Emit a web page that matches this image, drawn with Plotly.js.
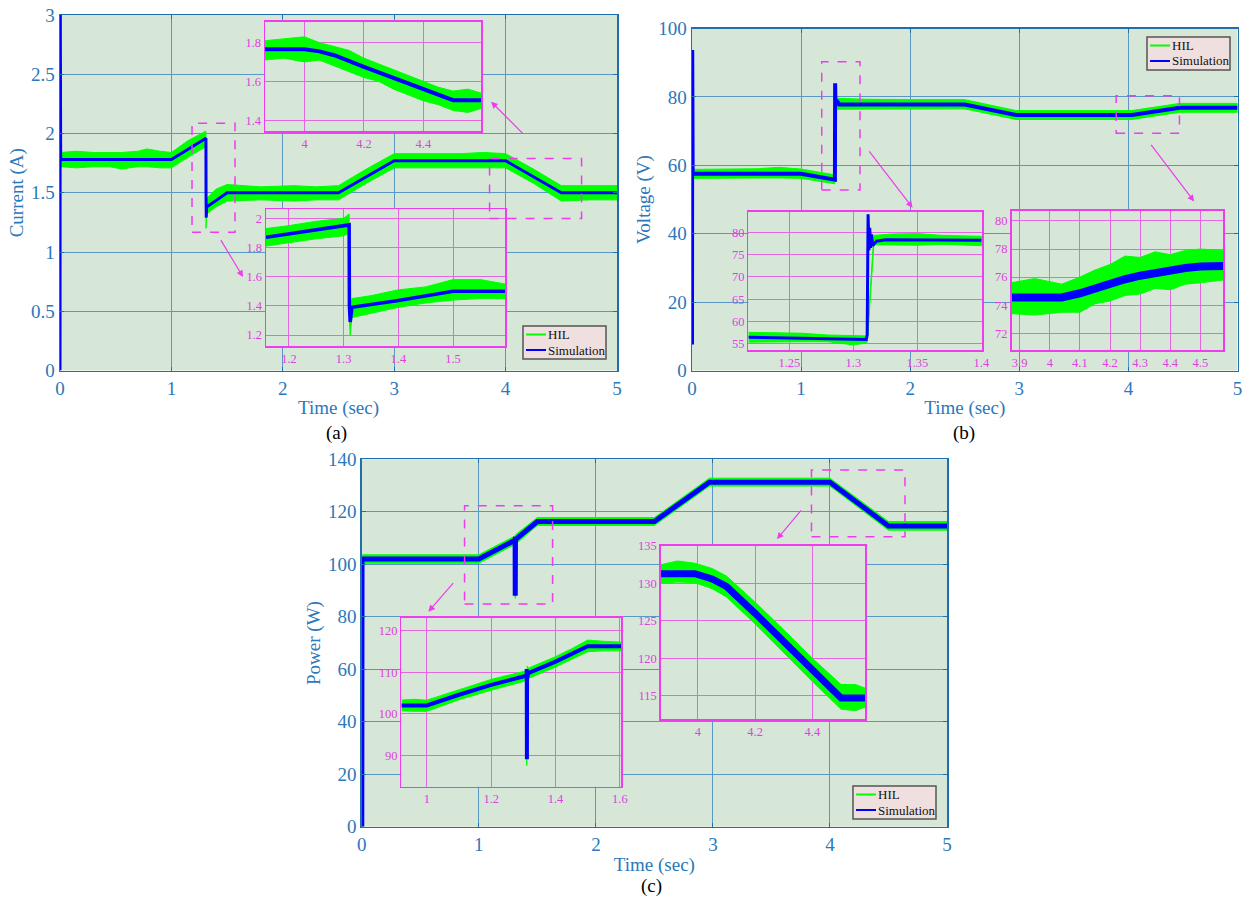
<!DOCTYPE html>
<html>
<head>
<meta charset="utf-8">
<script src="https://cdn.plot.ly/plotly-3.0.1.min.js"></script>
<style>html,body{margin:0;padding:0;background:#fff;}#chart{width:1250px;height:905px;}</style>
</head>
<body>
<div id="chart"></div>
<script>
// ---------------- DATA ----------------
// (a) Current (A)
const simA_t = [0, 0.002, 0.006, 1.0, 1.31, 1.311, 1.313, 1.316, 1.5, 2.5, 3.0, 4.0, 4.5, 5.0];
const simA_v = [0, 3.3, 1.78, 1.78, 1.96, 1.45, 1.29, 1.38, 1.50, 1.50, 1.77, 1.77, 1.50, 1.50];
const hilA_t  = [0.006, 0.15, 0.3, 0.45, 0.55, 0.7, 0.78, 0.9, 1.0, 1.15, 1.31, 1.311, 1.316, 1.4, 1.5, 1.8, 2.1, 2.3, 2.5, 2.75, 3.0, 3.3, 3.6, 3.8, 4.0, 4.25, 4.5, 4.75, 5.0];
const hilA_hi = [1.84, 1.85, 1.84, 1.84, 1.84, 1.85, 1.87, 1.85, 1.84, 1.94, 2.02, 1.45, 1.45, 1.53, 1.57, 1.55, 1.56, 1.55, 1.56, 1.70, 1.83, 1.83, 1.83, 1.84, 1.83, 1.70, 1.56, 1.56, 1.56];
const hilA_lo = [1.72, 1.71, 1.72, 1.72, 1.70, 1.72, 1.72, 1.71, 1.71, 1.80, 1.89, 1.20, 1.32, 1.38, 1.43, 1.44, 1.43, 1.44, 1.44, 1.58, 1.71, 1.71, 1.71, 1.71, 1.71, 1.58, 1.43, 1.44, 1.44];

const simA1_t = [3.867, 4.0, 4.05, 4.1, 4.2, 4.3, 4.4, 4.5, 4.594];
const simA1_v = [1.766, 1.766, 1.755, 1.735, 1.675, 1.617, 1.561, 1.503, 1.503];
const hilA1_t  = [3.867, 3.93, 4.0, 4.05, 4.1, 4.15, 4.2, 4.25, 4.3, 4.35, 4.4, 4.45, 4.5, 4.55, 4.594];
const hilA1_hi = [1.81, 1.82, 1.83, 1.80, 1.78, 1.76, 1.72, 1.69, 1.66, 1.63, 1.60, 1.57, 1.55, 1.56, 1.54];
const hilA1_lo = [1.71, 1.72, 1.70, 1.71, 1.68, 1.65, 1.62, 1.60, 1.56, 1.53, 1.50, 1.48, 1.45, 1.44, 1.46];

const simA2_t = [1.158, 1.31, 1.3105, 1.312, 1.315, 1.4, 1.5, 1.595];
const simA2_v = [1.87, 1.955, 1.40, 1.29, 1.39, 1.437, 1.50, 1.50];
const hilA2_t  = [1.158, 1.2, 1.25, 1.3, 1.31, 1.3105, 1.312, 1.315, 1.35, 1.4, 1.45, 1.5, 1.55, 1.595];
const hilA2_hi = [1.93, 1.95, 1.98, 2.00, 2.03, 1.45, 1.35, 1.45, 1.47, 1.51, 1.53, 1.58, 1.58, 1.55];
const hilA2_lo = [1.81, 1.83, 1.86, 1.88, 1.90, 1.30, 1.20, 1.32, 1.35, 1.39, 1.42, 1.44, 1.45, 1.45];

// (b) Voltage (V)
const simB_t = [0, 0.002, 0.006, 1.0, 1.31, 1.312, 1.315, 1.325, 1.35, 2.5, 2.97, 4.03, 4.47, 5.0];
const simB_v = [7.6, 93.7, 57.5, 57.5, 55.8, 84, 77.5, 79, 77.8, 77.8, 74.7, 74.7, 76.8, 76.8];
const hilB_t  = [0.006, 0.3, 0.6, 0.8, 1.0, 1.31, 1.312, 1.33, 1.6, 2.0, 2.5, 2.97, 3.5, 4.03, 4.47, 5.0];
const hilB_hi = [58.8, 58.8, 59.0, 59.4, 58.9, 57.2, 79.4, 79.6, 79.3, 79.2, 79.2, 76.0, 76.0, 76.0, 78.1, 78.1];
const hilB_lo = [56.2, 56.2, 56.3, 56.3, 56.2, 54.6, 76.4, 76.4, 76.4, 76.5, 76.5, 73.4, 73.4, 73.4, 75.5, 75.5];

const simB1_t = [1.218, 1.31, 1.3108, 1.3115, 1.3122, 1.3128, 1.3135, 1.3142, 1.315, 1.318, 1.325, 1.35, 1.4];
const simB1_v = [56.5, 56.0, 57.0, 84.0, 76.0, 81.0, 76.5, 79.5, 77.0, 78.0, 78.3, 78.3, 78.2];
const hilB1_t  = [1.218, 1.24, 1.26, 1.28, 1.30, 1.31, 1.311, 1.316, 1.33, 1.35, 1.37, 1.4];
const hilB1_hi = [57.6, 57.5, 57.4, 57.0, 56.8, 56.8, 57.5, 79.3, 79.6, 79.7, 79.3, 79.1];
const hilB1_lo = [55.4, 55.4, 55.5, 55.5, 54.8, 55.2, 55.5, 77.2, 77.2, 77.1, 77.3, 77.0];

const simB2_t = [3.873, 3.95, 4.04, 4.1, 4.15, 4.2, 4.25, 4.3, 4.35, 4.4, 4.45, 4.5, 4.576];
const simB2_v = [74.55, 74.55, 74.55, 74.85, 75.2, 75.55, 75.85, 76.1, 76.3, 76.5, 76.65, 76.75, 76.8];
const hilB2_t  = [3.873, 3.95, 4.04, 4.1, 4.15, 4.2, 4.25, 4.3, 4.35, 4.4, 4.45, 4.5, 4.576];
const hilB2_hi = [75.6, 75.9, 75.5, 76.0, 76.5, 76.9, 77.5, 77.4, 77.8, 77.6, 77.9, 78.0, 77.9];
const hilB2_lo = [73.4, 73.3, 73.5, 73.5, 74.1, 74.3, 74.7, 74.8, 75.2, 75.1, 75.5, 75.6, 75.8];

// (c) Power (W)
const simC_t = [0, 0.002, 1.0, 1.31, 1.311, 1.313, 1.315, 1.5, 2.5, 2.97, 4.0, 4.5, 5.0];
const simC_v = [0, 102, 102, 109.2, 88, 110.5, 109.5, 116.3, 116.3, 131.3, 131.3, 114.6, 114.6];
const hilC_t  = [0.004, 0.5, 1.0, 1.31, 1.311, 1.315, 1.5, 2.0, 2.5, 2.97, 3.5, 4.0, 4.5, 5.0];
const hilC_hi = [103.6, 103.6, 103.6, 110.8, 110, 111.3, 117.8, 117.8, 117.8, 132.8, 132.8, 132.8, 116.3, 116.3];
const hilC_lo = [100.4, 100.4, 100.4, 107.6, 87, 107.7, 114.8, 114.8, 114.8, 129.8, 129.8, 129.8, 113.0, 113.0];

const simC1_t = [0.921, 1.0, 1.1, 1.2, 1.31, 1.3105, 1.311, 1.3115, 1.312, 1.315, 1.4, 1.5, 1.604];
const simC1_v = [102, 102, 104.6, 107, 109.2, 110.8, 89, 109, 108.6, 109.8, 112.6, 116.3, 116.3];
const hilC1_t  = [0.921, 0.96, 1.0, 1.1, 1.2, 1.3, 1.31, 1.3105, 1.312, 1.315, 1.4, 1.45, 1.5, 1.55, 1.604];
const hilC1_hi = [103.3, 103.5, 103.3, 105.8, 108.3, 110.2, 110.5, 95, 111.5, 111, 113.8, 115.7, 117.8, 117.5, 117.3];
const hilC1_lo = [100.7, 100.6, 100.6, 103.4, 105.7, 107.8, 108, 87.5, 108.5, 108.5, 111.3, 113.2, 115.0, 115.2, 115.2];

const simC2_t = [3.871, 3.99, 4.05, 4.1, 4.2, 4.3, 4.4, 4.5, 4.585];
const simC2_v = [131.3, 131.3, 130.6, 129.6, 126.0, 122.3, 118.4, 114.7, 114.7];
const hilC2_t  = [3.871, 3.93, 3.99, 4.05, 4.1, 4.2, 4.3, 4.4, 4.5, 4.55, 4.585];
const hilC2_hi = [132.5, 133.0, 132.7, 132.0, 131.0, 127.5, 123.8, 120.0, 116.5, 116.5, 116.0];
const hilC2_lo = [130.0, 130.2, 130.1, 129.3, 128.2, 124.6, 120.8, 116.9, 113.2, 113.0, 113.5];

const seriesNames = ['HIL', 'Simulation'];
const panelLabels = ['(a)', '(b)', '(c)'];
const yTitles = ['Current (A)', 'Voltage (V)', 'Power (W)'];
const xTitle = 'Time (sec)';

// ---------------- STYLE ----------------
const W = 1250, H = 905;
const FONT = 'Liberation Serif, Times New Roman, serif';
const GREEN = '#00ff00', BLUE = '#0000ff';
const TICK = '#2b78bb', FRAME = '#1f6eae', GRID = '#5897c6';
const MAIN_BG = '#d6e7d8', INSET_BG = '#cddff4';
const MAG = '#ee3cee', MAG_GRID = '#e466e4', MAG_TXT = '#e040e0';

const fx = p => p / W;
const fy = p => 1 - p / H;
const dX = (l, r) => [fx(l), fx(r)];
const dY = (t, b) => [fy(b), fy(t)];

function band(t, hi, lo, n) {
  return {type: 'scatter', mode: 'lines', x: t.concat(t.slice().reverse()), y: hi.concat(lo.slice().reverse()),
    fill: 'toself', fillcolor: GREEN, line: {color: GREEN, width: 1}, xaxis: 'x' + n, yaxis: 'y' + n,
    name: seriesNames[0], showlegend: false, hoverinfo: 'skip'};
}
function sim(t, v, w, n) {
  return {type: 'scatter', mode: 'lines', x: t, y: v, line: {color: BLUE, width: w},
    xaxis: 'x' + n, yaxis: 'y' + n, name: seriesNames[1], showlegend: false};
}

function mainX(l, r, n) {
  return {domain: dX(l, r), range: [0, 5], tick0: 0, dtick: 1, anchor: 'y' + n,
    showgrid: true, gridcolor: GRID, gridwidth: 1, zeroline: false,
    showline: true, mirror: 'allticks', linecolor: FRAME, linewidth: 1.5,
    ticks: 'inside', ticklen: 4, tickcolor: FRAME, tickwidth: 1,
    tickfont: {family: FONT, size: 19, color: TICK},
    title: {text: xTitle, font: {family: FONT, size: 19, color: TICK}, standoff: 3}};
}
function mainY(t, b, range, dtick, n, title) {
  return {domain: dY(t, b), range: range, tick0: 0, dtick: dtick, anchor: 'x' + n,
    showgrid: true, gridcolor: GRID, gridwidth: 1, zeroline: false,
    showline: true, mirror: 'allticks', linecolor: FRAME, linewidth: 1.5,
    ticks: 'inside', ticklen: 4, tickcolor: FRAME, tickwidth: 1,
    tickfont: {family: FONT, size: 19, color: TICK},
    title: {text: title, font: {family: FONT, size: 19, color: TICK}, standoff: 2}};
}
function insetAx(dom, range, dtick, n, isX) {
  return {domain: dom, range: range, tick0: 0, dtick: dtick, anchor: (isX ? 'y' : 'x') + n,
    showgrid: true, gridcolor: MAG_GRID, gridwidth: 1, zeroline: false,
    showline: true, mirror: true, linecolor: MAG, linewidth: 1.5, ticks: '',
    tickfont: {family: FONT, size: 12.5, color: MAG_TXT}};
}

const data = [
  band(hilA_t, hilA_hi, hilA_lo, ''), sim(simA_t, simA_v, 3, ''),
  band(hilA1_t, hilA1_hi, hilA1_lo, 2), sim(simA1_t, simA1_v, 4, 2),
  band(hilA2_t, hilA2_hi, hilA2_lo, 3), sim(simA2_t, simA2_v, 3.5, 3),
  band(hilB_t, hilB_hi, hilB_lo, 4), sim(simB_t, simB_v, 4, 4),
  band(hilB1_t, hilB1_hi, hilB1_lo, 5), sim(simB1_t, simB1_v, 3, 5),
  band(hilB2_t, hilB2_hi, hilB2_lo, 6), sim(simB2_t, simB2_v, 8, 6),
  band(hilC_t, hilC_hi, hilC_lo, 7), sim(simC_t, simC_v, 5, 7),
  band(hilC1_t, hilC1_hi, hilC1_lo, 8), sim(simC1_t, simC1_v, 4, 8),
  band(hilC2_t, hilC2_hi, hilC2_lo, 9), sim(simC2_t, simC2_v, 7, 9)
];

const layout = {
  width: W, height: H, margin: {l: 0, r: 0, t: 0, b: 0},
  paper_bgcolor: '#ffffff', plot_bgcolor: MAIN_BG, showlegend: false,
  font: {family: FONT},
  // (a)
  xaxis: mainX(60, 617, ''), yaxis: mainY(15, 370.5, [0, 3], 0.5, '', yTitles[0]),
  xaxis2: insetAx(dX(265, 481), [3.867, 4.594], 0.2, 2, true),
  yaxis2: insetAx(dY(21.7, 131), [1.344, 1.908], 0.2, 2, false),
  xaxis3: insetAx(dX(266, 505), [1.158, 1.595], 0.1, 3, true),
  yaxis3: insetAx(dY(209, 346), [1.125, 2.064], 0.2, 3, false),
  // (b)
  xaxis4: mainX(692, 1237.5, 4), yaxis4: mainY(28.5, 370.5, [0, 100], 20, 4, yTitles[1]),
  xaxis5: insetAx(dX(748.4, 982), [1.218, 1.4005], 0.05, 5, true),
  yaxis5: insetAx(dY(211.7, 350), [53.65, 84.6], 5, 5, false),
  xaxis6: insetAx(dX(1011.5, 1223.3), [3.873, 4.576], 0.1, 6, true),
  yaxis6: insetAx(dY(210.7, 350), [70.81, 80.73], 2, 6, false),
  // (c)
  xaxis7: mainX(361.8, 947, 7), yaxis7: mainY(459.3, 826.7, [0, 140], 20, 7, yTitles[2]),
  xaxis8: insetAx(dX(401.4, 621.2), [0.921, 1.604], 0.2, 8, true),
  yaxis8: insetAx(dY(617.7, 786.7), [82.4, 123.2], 10, 8, false),
  xaxis9: insetAx(dX(660.8, 865.4), [3.871, 4.585], 0.2, 9, true),
  yaxis9: insetAx(dY(545.7, 719.3), [111.85, 135.04], 5, 9, false),
  shapes: [], annotations: []
};
// inset plot backgrounds
const insetIds = [2, 3, 5, 6, 8, 9];
insetIds.forEach(n => {
  layout.shapes.push({type: 'rect', xref: 'x' + n + ' domain', yref: 'y' + n + ' domain', x0: 0, x1: 1, y0: 0, y1: 1,
    fillcolor: INSET_BG, line: {width: 0}, layer: 'below'});
});

// dashed zoom boxes (data coords of main axes)
const boxes = [
  ['', 1.185, 1.571, 1.166, 2.087], ['', 3.856, 4.682, 1.282, 1.789],
  [4, 1.189, 1.540, 52.8, 90.3], [4, 3.888, 4.468, 69.4, 80.3],
  [7, 0.878, 1.630, 84.9, 122.3], [7, 3.842, 4.641, 110.5, 135.9]
];
boxes.forEach(b => layout.shapes.push({type: 'rect', xref: 'x' + b[0], yref: 'y' + b[0], x0: b[1], x1: b[2], y0: b[3], y1: b[4],
  line: {color: MAG, width: 1.5, dash: 'dash'}, fillcolor: 'rgba(0,0,0,0)', layer: 'above'}));

// arrows
const arrows = [
  ['', 4.169, 1.986, 3.870, 2.268], ['', 1.436, 1.113, 1.643, 0.789],
  [4, 1.614, 64.5, 2.022, 47.6], [4, 4.198, 66.4, 4.603, 49.4],
  [7, 0.792, 93.4, 0.569, 81.9], [7, 3.764, 121.1, 3.547, 109.6]
];
arrows.forEach(a => layout.annotations.push({xref: 'x' + a[0], yref: 'y' + a[0], axref: 'x' + a[0], ayref: 'y' + a[0],
  x: a[3], y: a[4], ax: a[1], ay: a[2], text: '', showarrow: true, arrowhead: 2, arrowsize: 1.1, arrowwidth: 1.2, arrowcolor: MAG}));

// legends (manual, MATLAB style)
const legPos = [[523, 326], [1147, 37], [853, 786]];
legPos.forEach(p => {
  const L = p[0], T = p[1];
  layout.shapes.push({type: 'rect', xref: 'paper', yref: 'paper', x0: fx(L), x1: fx(L + 83), y0: fy(T + 33), y1: fy(T),
    fillcolor: '#f0dfdf', line: {color: '#555555', width: 1.5}, layer: 'above'});
  layout.shapes.push({type: 'line', xref: 'paper', yref: 'paper', x0: fx(L + 3), x1: fx(L + 23), y0: fy(T + 8.5), y1: fy(T + 8.5),
    line: {color: GREEN, width: 2}, layer: 'above'});
  layout.shapes.push({type: 'line', xref: 'paper', yref: 'paper', x0: fx(L + 3), x1: fx(L + 23), y0: fy(T + 24), y1: fy(T + 24),
    line: {color: BLUE, width: 2}, layer: 'above'});
  layout.annotations.push({xref: 'paper', yref: 'paper', x: fx(L + 23), y: fy(T + 8.5), xanchor: 'left', yanchor: 'middle',
    text: seriesNames[0], showarrow: false, font: {family: FONT, size: 13, color: '#111'}});
  layout.annotations.push({xref: 'paper', yref: 'paper', x: fx(L + 23), y: fy(T + 24), xanchor: 'left', yanchor: 'middle',
    text: seriesNames[1], showarrow: false, font: {family: FONT, size: 13, color: '#111'}});
});

// panel labels
[[336, 433], [964, 433], [652, 886]].forEach((p, i) => layout.annotations.push({xref: 'paper', yref: 'paper',
  x: fx(p[0]), y: fy(p[1]), xanchor: 'center', yanchor: 'middle', text: panelLabels[i], showarrow: false,
  font: {family: FONT, size: 19, color: '#000'}}));

Plotly.newPlot('chart', data, layout, {displayModeBar: false, staticPlot: true});
</script>
</body>
</html>
